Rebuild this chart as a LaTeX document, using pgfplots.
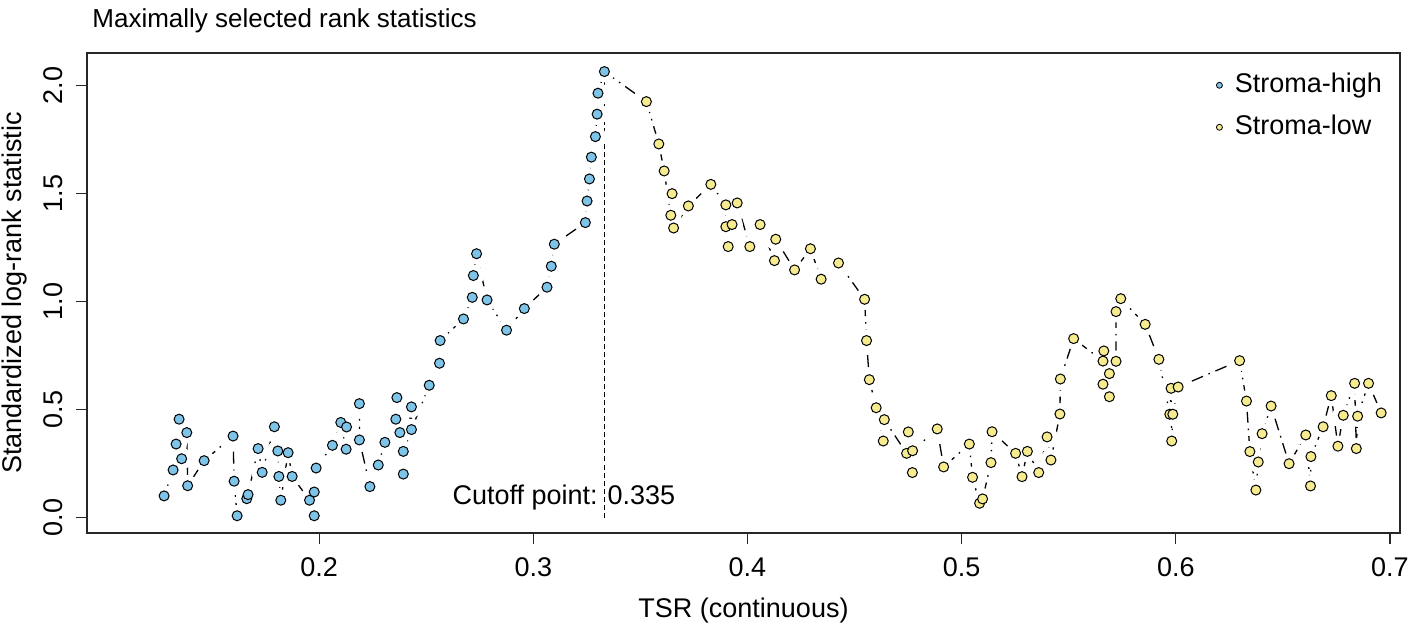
\documentclass[border=0pt]{standalone}
\usepackage{fontspec}
\setmainfont{Liberation Sans}
\usepackage{pgfplots}
\usepackage{pgfplotstable}
\pgfplotsset{compat=1.18}
\definecolor{bluept}{HTML}{7EC3E8}
\definecolor{yellowpt}{HTML}{F7EB8F}

\pgfplotstableread{
x y
0.1276 0.100
0.1318 0.220
0.1332 0.340
0.1346 0.455
0.1358 0.272
0.1382 0.393
0.1386 0.147
0.1463 0.263
0.1598 0.377
0.1603 0.168
0.1617 0.008
0.1662 0.087
0.1668 0.106
0.1715 0.319
0.1734 0.209
0.1791 0.420
0.1807 0.308
0.1812 0.190
0.1821 0.080
0.1855 0.300
0.1874 0.190
0.1955 0.080
0.1977 0.118
0.1977 0.008
0.1986 0.229
0.2062 0.334
0.2101 0.440
0.2126 0.316
0.2128 0.419
0.2188 0.527
0.2188 0.359
0.2237 0.143
0.2276 0.243
0.2307 0.348
0.2358 0.455
0.2363 0.555
0.2377 0.393
0.2393 0.306
0.2393 0.201
0.2431 0.512
0.2431 0.407
0.2514 0.612
0.2562 0.714
0.2565 0.819
0.2674 0.919
0.2715 1.019
0.2720 1.120
0.2735 1.221
0.2784 1.007
0.2875 0.867
0.2958 0.967
0.3064 1.066
0.3084 1.163
0.3098 1.265
0.3243 1.365
0.3251 1.465
0.3262 1.567
0.3271 1.668
0.3290 1.763
0.3298 1.867
0.3302 1.964
0.3332 2.064
}\highdata

\pgfplotstableread{
x y
0.3528 1.925
0.3586 1.729
0.3611 1.604
0.3642 1.399
0.3648 1.499
0.3655 1.340
0.3724 1.442
0.3829 1.542
0.3899 1.447
0.3899 1.346
0.3910 1.254
0.3928 1.356
0.3952 1.456
0.4011 1.254
0.4059 1.356
0.4126 1.189
0.4132 1.288
0.4220 1.146
0.4294 1.244
0.4344 1.103
0.4425 1.178
0.4547 1.010
0.4556 0.819
0.4569 0.638
0.4601 0.508
0.4634 0.354
0.4639 0.453
0.4743 0.297
0.4751 0.396
0.4770 0.208
0.4771 0.309
0.4886 0.410
0.4916 0.234
0.5036 0.340
0.5051 0.186
0.5084 0.066
0.5098 0.086
0.5137 0.254
0.5142 0.397
0.5252 0.297
0.5282 0.189
0.5307 0.306
0.5360 0.208
0.5399 0.373
0.5417 0.266
0.5459 0.479
0.5461 0.641
0.5523 0.828
0.5660 0.724
0.5660 0.617
0.5664 0.771
0.5690 0.666
0.5690 0.559
0.5721 0.723
0.5721 0.953
0.5743 1.013
0.5857 0.894
0.5921 0.732
0.5972 0.478
0.5978 0.598
0.5981 0.354
0.5986 0.478
0.6011 0.604
0.6298 0.726
0.6330 0.539
0.6346 0.305
0.6374 0.127
0.6385 0.257
0.6403 0.388
0.6445 0.516
0.6529 0.249
0.6607 0.382
0.6629 0.146
0.6631 0.282
0.6688 0.420
0.6726 0.564
0.6757 0.330
0.6782 0.473
0.6835 0.621
0.6843 0.319
0.6849 0.469
0.6900 0.621
0.6959 0.484
}\lowdata

\begin{document}
\begin{tikzpicture}
\path[use as bounding box] (0,0) rectangle (708pt,314.5pt);
\begin{axis}[
  at={(43.5pt,48pt)}, anchor=south west,
  scale only axis, width=656.5pt, height=240pt,
  xmin=0.0916, xmax=0.7047, ymin=-0.0718, ymax=2.150,
  clip=false,
  axis line style={line width=0.6pt, black!85},
  tick style={line width=0.6pt, black!85},
  tick align=outside, major tick length=5.5pt,
  xtick pos=lower, ytick pos=left,
  xtick={0.2,0.3,0.4,0.5,0.6,0.7},
  xticklabels={0.2,0.3,0.4,0.5,0.6,0.7},
  ytick={0,0.5,1,1.5,2},
  yticklabels={0.0,0.5,1.0,1.5,2.0},
  ticklabel style={font=\fontsize{13.5}{16}\selectfont},
  xticklabel style={anchor=north, yshift=-3.5pt},
  yticklabel style={anchor=south, rotate=90},
  yticklabel shift=3pt,
  every axis x label/.style={at={(axis description cs:0.5,0)}, yshift=-38.5pt, anchor=center, font=\fontsize{13.5}{16}\selectfont},
  every axis y label/.style={at={(axis description cs:0,0.5)}, xshift=-36pt, rotate=90, anchor=center, font=\fontsize{13.5}{16}\selectfont},
  xlabel={TSR (continuous)},
  ylabel={Standardized log-rank statistic},
  legend style={at={(axis description cs:0.855,0.969)}, anchor=north west, draw=none, fill=none,
    font=\fontsize{13.5}{16}\selectfont, row sep=8pt,
    nodes={inner sep=0pt, text height=10pt, text depth=3pt}},
  legend cell align=left,
]
% connecting dot-dash line
\addplot[forget plot, black, line width=0.65pt, dash pattern=on 6pt off 3pt on 0.8pt off 3pt] table {\highdata};
\addplot[forget plot, black, line width=0.65pt, dash pattern=on 6pt off 3pt on 0.8pt off 3pt] coordinates {(0.3332,2.064) (0.3528,1.925)};
\addplot[forget plot, black, line width=0.65pt, dash pattern=on 6pt off 3pt on 0.8pt off 3pt] table {\lowdata};
% gaps around points (type b)
\addplot[forget plot, white, only marks, mark=*, mark size=5.2pt, mark options={draw=white, fill=white}] table {\highdata};
\addplot[forget plot, white, only marks, mark=*, mark size=5.2pt, mark options={draw=white, fill=white}] table {\lowdata};
% cutoff line
\addplot[forget plot, black, line width=0.6pt, dash pattern=on 2.5pt off 1.5pt] coordinates {(0.3332,0) (0.3332,2.064)};
\node[anchor=base west, font=\fontsize{13.5}{16}\selectfont, inner sep=0pt] at (axis cs:0.2621,0.058) {Cutoff point: 0.335};
\node[anchor=base west, font=\fontsize{13}{16}\selectfont, inner sep=0pt] at ([xshift=2.5pt, yshift=13pt]rel axis cs:0,1) {Maximally selected rank statistics};
% points
\addplot[only marks, mark=*, mark size=2.5pt, mark options={draw=black, line width=0.5pt, fill=bluept},
  legend image code/.code={\draw[fill=bluept, draw=black, line width=0.4pt] (0pt,0pt) circle (1.5pt);}] table {\highdata};
\addlegendentry{\hspace{6pt}Stroma-high}
\addplot[only marks, mark=*, mark size=2.5pt, mark options={draw=black, line width=0.5pt, fill=yellowpt},
  legend image code/.code={\draw[fill=yellowpt, draw=black, line width=0.4pt] (0pt,0pt) circle (1.5pt);}] table {\lowdata};
\addlegendentry{\hspace{6pt}Stroma-low}
\end{axis}
\end{tikzpicture}
\end{document}
